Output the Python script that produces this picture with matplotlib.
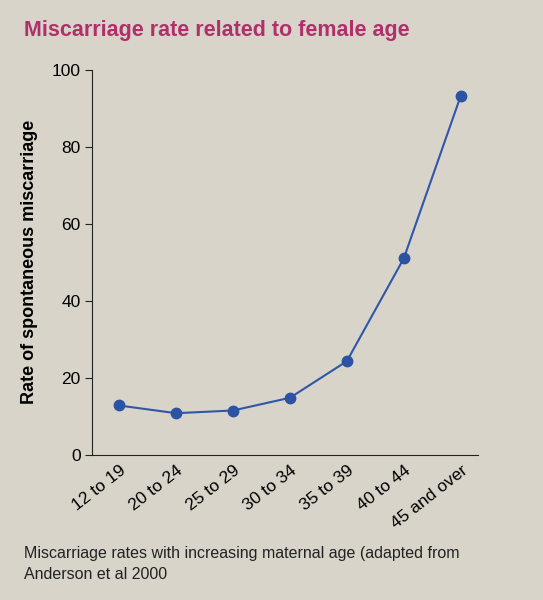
import matplotlib
matplotlib.use("Agg")
import matplotlib.pyplot as plt

plt.rcParams["font.family"] = ["Liberation Sans", "DejaVu Sans"]

ages = ["12 to 19", "20 to 24", "25 to 29", "30 to 34", "35 to 39", "40 to 44", "45 and over"]
rates = [12.8, 10.8, 11.5, 14.8, 24.3, 51.0, 93.2]

BG = "#d9d4c9"
fig = plt.figure(figsize=(5.43, 6.0), dpi=100, facecolor=BG)
ax = fig.add_axes([0.170, 0.242, 0.71, 0.642], facecolor=BG)

x = range(len(ages))
ax.plot(x, rates, color="#2f56a8", linewidth=1.5, marker="o", markersize=7.5,
        markerfacecolor="#2b52a3", markeredgecolor="#2b52a3")

ax.set_xlim(-0.47, 6.3)
ax.set_ylim(0, 100)
ax.set_yticks([0, 20, 40, 60, 80, 100])
ax.set_xticks(list(x))
ax.set_xticklabels(ages, rotation=38, ha="right", rotation_mode="anchor", fontsize=12.5)
ax.tick_params(axis="y", labelsize=12.5, length=5, color="#222222")
ax.tick_params(axis="x", length=0, pad=6)
for s in ("top", "right"):
    ax.spines[s].set_visible(False)
for s in ("left", "bottom"):
    ax.spines[s].set_color("#222222")
ax.set_ylabel("Rate of spontaneous miscarriage", fontsize=13, fontweight="bold", labelpad=10)

fig.text(0.045, 0.940, "Miscarriage rate related to female age", fontsize=15.5,
         fontweight="bold", color="#b0306b")
fig.text(0.045, 0.030, "Miscarriage rates with increasing maternal age (adapted from\nAnderson et al 2000",
         fontsize=11.5, color="#222222", linespacing=1.5, va="bottom")

fig.savefig("out.png", dpi=100, facecolor=BG)
